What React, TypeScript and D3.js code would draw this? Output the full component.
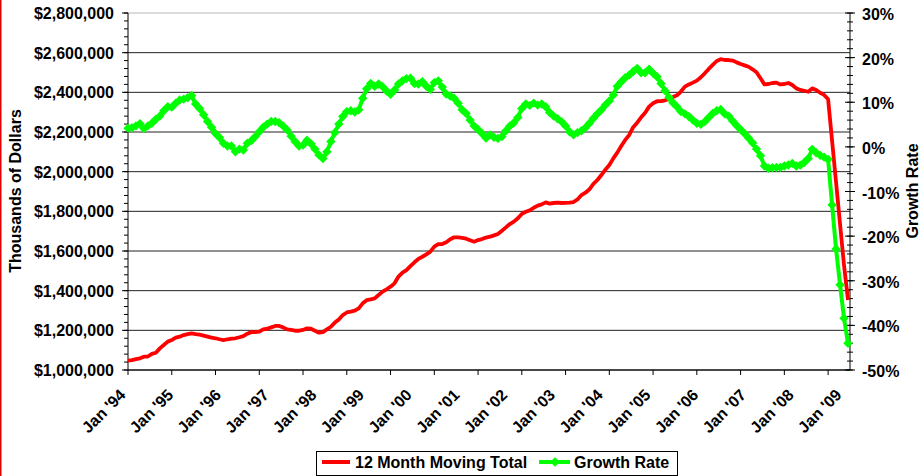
import React from "react";
import * as d3 from "d3";

// ---- data (monthly, Jan 1994 onward) ----
const movingTotal = [
  1047000, 1050000, 1055000, 1059000, 1067000, 1068000, 1081000, 1087000, 1109000, 1126000,
  1143000, 1151000, 1163000, 1168000, 1176000, 1181000, 1185000, 1181000, 1178000, 1173000,
  1168000, 1163000, 1160000, 1155000, 1151000, 1155000, 1158000, 1160000, 1165000, 1171000,
  1183000,
  1191000, 1191000, 1193000, 1205000, 1208000, 1215000, 1222000, 1222000, 1215000, 1205000,
  1202000, 1198000, 1198000, 1202000, 1210000, 1208000, 1198000, 1188000, 1191000, 1205000,
  1218000, 1239000, 1255000, 1277000, 1290000, 1294000, 1299000, 1311000, 1336000, 1352000,
  1356000, 1361000, 1378000, 1395000, 1407000, 1420000, 1437000, 1471000, 1491000, 1504000,
  1524000, 1543000, 1560000, 1571000, 1583000, 1597000, 1622000, 1635000, 1635000, 1644000,
  1659000, 1669000, 1669000, 1666000, 1662000, 1654000, 1647000, 1655000, 1660000, 1668000,
  1672000, 1679000, 1686000, 1702000, 1719000, 1736000, 1748000, 1765000, 1787000, 1798000,
  1805000, 1818000, 1829000, 1835000, 1845000, 1839000, 1842000, 1844000, 1842000, 1843000,
  1844000, 1847000, 1860000, 1882000, 1894000, 1911000, 1938000, 1958000, 1983000, 2010000,
  2034000, 2067000, 2096000, 2129000, 2160000, 2185000, 2224000, 2247000, 2274000, 2297000,
  2328000, 2345000, 2355000, 2356000, 2360000, 2366000, 2376000, 2385000, 2404000, 2429000,
  2440000, 2449000, 2459000, 2476000, 2496000, 2518000, 2538000, 2558000, 2567000, 2563000,
  2563000, 2560000, 2551000, 2543000, 2536000, 2529000, 2516000, 2501000, 2471000, 2440000,
  2442000, 2447000, 2449000, 2440000, 2442000, 2447000, 2437000, 2420000, 2412000, 2408000,
  2403000, 2420000, 2412000, 2398000, 2387000, 2365000, 2155000, 1946000, 1736000, 1528000,
  1353000,
];

const growthRate = [
  4.2, 4.3, 4.7, 5.2, 4.1, 4.7, 5.3, 6.2, 6.9, 8.1,
  9.0, 8.9, 9.8, 10.5, 10.7, 11.0, 11.5, 9.6, 8.6, 7.2,
  5.7, 4.4, 3.0, 2.1, 0.8, 0.2, 0.2, -1.1, -0.5, -0.7,
  0.8,
  1.4, 2.3, 3.4, 4.4, 5.1, 5.7, 5.7, 5.4, 4.7, 3.8,
  2.4, 1.2, 0.2, 0.4, 1.5, 0.7, -0.5, -1.8, -2.6, -1.1,
  1.2, 3.2, 5.1, 6.8, 7.9, 8.1, 7.8, 8.3, 10.9, 13.0,
  14.2, 13.6, 14.1, 13.5, 12.5, 11.8, 12.75, 14.1, 14.8, 15.3,
  15.4, 14.2, 14.1, 14.6, 13.6, 12.9, 14.4, 14.8, 13.4, 11.85,
  11.4, 10.9, 9.8, 8.3, 7.5, 6.0, 4.7, 3.9, 3.0, 2.0,
  2.7, 2.15, 1.9, 2.3, 3.6, 4.7, 5.4, 6.6, 8.6, 9.6,
  9.3, 9.8, 9.4, 9.6, 9.0, 7.7, 6.9, 6.3, 5.65, 4.7,
  3.4, 2.7, 3.2, 3.6, 4.3, 5.3, 6.4, 7.4, 8.3, 9.4,
  10.3, 11.6, 13.6, 14.6, 15.5, 16.1, 16.9, 17.6, 16.6, 16.6,
  17.4, 16.5, 15.7, 14.2, 12.6, 11.1, 9.9, 9.0, 7.9, 7.4,
  6.8, 6.0, 5.3, 5.05, 5.65, 6.6, 7.5, 8.1, 8.4, 7.4,
  6.9, 5.8, 4.8, 3.9, 3.0, 2.0, 0.9, -0.5, -2.0, -4.3,
  -4.8, -4.65, -4.6, -4.6, -4.3, -4.05, -3.7, -4.3, -4.1, -3.5,
  -2.6, -0.55, -1.3, -1.9, -2.3, -2.8, -13.0, -22.9, -30.9, -38.4,
  -44.0,
];

const xLabels = [
  "Jan '94", "Jan '95", "Jan '96", "Jan '97", "Jan '98", "Jan '99", "Jan '00", "Jan '01",
  "Jan '02", "Jan '03", "Jan '04", "Jan '05", "Jan '06", "Jan '07", "Jan '08", "Jan '09",
];
const leftTicks = [1000000, 1200000, 1400000, 1600000, 1800000, 2000000, 2200000, 2400000, 2600000, 2800000];
const rightTicks = [-50, -40, -30, -20, -10, 0, 10, 20, 30];
const seriesNames = ["12 Month Moving Total", "Growth Rate"];

const W = 920;
const H = 476;
const L = 128, R = 850, T = 13, B = 370;
const FONT = "'Liberation Sans', Arial, Helvetica, sans-serif";
const RED = "#ff0000";
const GREEN = "#00ff00";

export default function App() {
  const n = movingTotal.length;
  const x = d3.scaleLinear().domain([0, n - 1]).range([L, 848]);
  const yL = d3.scaleLinear().domain([1000000, 2800000]).range([B, T]);
  const yR = d3.scaleLinear().domain([-50, 30]).range([B, T]);

  const redLine = d3.line<number>().x((_, i) => x(i)).y((d) => yL(d))(movingTotal) || "";
  const greenLine = d3.line<number>().x((_, i) => x(i)).y((d) => yR(d))(growthRate) || "";
  const diamond = "M0,-4.7L4.7,0L0,4.7L-4.7,0Z";

  const fmtL = d3.format(",");
  const minorL = d3.range(1000000, 2800001, 40000);
  const minorR = d3.range(-50, 30.001, 2);
  const xTickIdx = d3.range(0, n, 11);

  return (
    <svg width={W} height={H} style={{ position: "absolute", left: 0, top: 0, background: "#fff" }}
      fontFamily={FONT} fontWeight="bold" fontSize={16}>
      <rect x={0} y={0} width={W} height={H} fill="#fff" />
      <rect x={0} y={0} width={1.5} height={H} fill="#e00000" />

      {/* gridlines */}
      {leftTicks.map((v) => (
        <line key={"g" + v} x1={L} x2={R} y1={yL(v)} y2={yL(v)}
          stroke={v === 2800000 ? "#b8b8b8" : "#222"} strokeWidth={1} />
      ))}

      {/* left axis */}
      <line x1={L} x2={L} y1={T} y2={B} stroke="#000" />
      {minorL.map((v) => (
        <line key={"ml" + v} x1={L - 4} x2={L} y1={yL(v)} y2={yL(v)} stroke="#000" />
      ))}
      {leftTicks.map((v) => (
        <g key={"tl" + v}>
          <line x1={L - 6} x2={L} y1={yL(v)} y2={yL(v)} stroke="#000" />
          <text x={114} y={yL(v) + 6} textAnchor="end">{"$" + fmtL(v)}</text>
        </g>
      ))}

      {/* right axis */}
      <line x1={R} x2={R} y1={T} y2={B} stroke="#000" />
      {minorR.map((v) => (
        <line key={"mr" + v} x1={R - 3} x2={R + 3} y1={yR(v)} y2={yR(v)} stroke="#000" />
      ))}
      {rightTicks.map((v) => (
        <g key={"tr" + v}>
          <line x1={R - 5} x2={R + 5} y1={yR(v)} y2={yR(v)} stroke="#000" />
          <text x={862} y={yR(v) + 7} textAnchor="start">{v + "%"}</text>
        </g>
      ))}

      {/* bottom axis */}
      <line x1={L} x2={R} y1={B} y2={B} stroke="#000" />
      {xTickIdx.map((i) => (
        <line key={"xt" + i} x1={x(i)} x2={x(i)} y1={B} y2={B + 5} stroke="#000" />
      ))}
      {xLabels.map((lab, k) => {
        const px = x(k * 12) - 1.5;
        const py = 396;
        return (
          <text key={lab} x={px} y={py} textAnchor="end" transform={`rotate(-45 ${px} ${py})`}>{lab}</text>
        );
      })}

      {/* series */}
      <path d={redLine} fill="none" stroke={RED} strokeWidth={3.8} strokeLinejoin="round" />
      <path d={greenLine} fill="none" stroke={GREEN} strokeWidth={4} strokeLinejoin="round" />
      {growthRate.map((d, i) => (
        <path key={"m" + i} d={diamond} transform={`translate(${x(i)},${yR(d)})`} fill={GREEN} />
      ))}

      {/* axis titles */}
      <text transform="translate(21,191) rotate(-90)" textAnchor="middle">Thousands of Dollars</text>
      <text transform="translate(918,191) rotate(-90)" textAnchor="middle">Growth Rate</text>

      {/* legend */}
      <rect x={316.5} y={451.5} width={361} height={24} fill="#fff" stroke="#000" />
      <line x1={322} x2={350} y1={462} y2={462} stroke={RED} strokeWidth={4} />
      <text x={355} y={468}>{seriesNames[0]}</text>
      <line x1={539} x2={570} y1={462} y2={462} stroke={GREEN} strokeWidth={4} />
      <path d={diamond} transform="translate(555,462)" fill={GREEN} />
      <text x={574} y={468}>{seriesNames[1]}</text>
    </svg>
  );
}
